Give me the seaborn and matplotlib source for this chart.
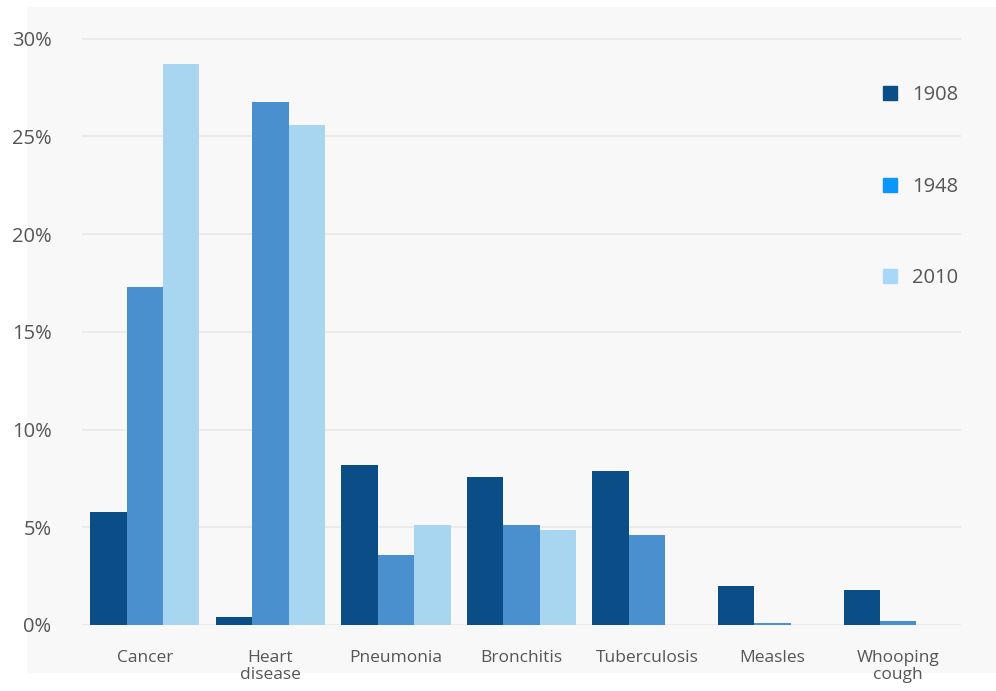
import matplotlib
matplotlib.use("Agg")
import matplotlib.pyplot as plt
import seaborn as sns
import pandas as pd
from matplotlib.patches import Rectangle
from matplotlib.lines import Line2D

categories = ["Cancer", "Heart\ndisease", "Pneumonia", "Bronchitis", "Tuberculosis", "Measles", "Whooping\ncough"]
years = ["1908", "1948", "2010"]
v1908 = [5.8, 0.4, 8.2, 7.55, 7.9, 2.0, 1.8]
v1948 = [17.3, 26.75, 3.6, 5.1, 4.6, 0.1, 0.2]
v2010 = [28.7, 25.6, 5.1, 4.85, 0.0, 0.0, 0.0]
yticks = [0, 5, 10, 15, 20, 25, 30]
ytick_labels = ["0%", "5%", "10%", "15%", "20%", "25%", "30%"]

bar_colors = ["#0b4d87", "#4a8fce", "#a8d6f1"]
legend_colors = ["#0b4d87", "#0a96fb", "#a8d8f8"]

rows = []
for y, vals in zip(years, [v1908, v1948, v2010]):
    for c, v in zip(categories, vals):
        rows.append({"cat": c, "year": y, "val": v})
df = pd.DataFrame(rows)

sns.set_theme(style="white")
plt.rcParams["font.family"] = ["Open Sans", "DejaVu Sans"]

fig = plt.figure(figsize=(9.96, 6.91), dpi=100)
fig.patch.set_facecolor("white")
# light grey panel behind chart
fig.patches.append(Rectangle((27 / 996, 1 - 673 / 691), 1 - 27 / 996, (673 - 7) / 691,
                             transform=fig.transFigure, facecolor="#f8f8f8",
                             edgecolor="none", zorder=-10))

ax = fig.add_axes([82 / 996, 1 - 625 / 691, 879 / 996, (625 - 29) / 691])
ax.set_facecolor("none")

sns.barplot(data=df, x="cat", y="val", hue="year", palette=bar_colors,
            width=0.87, gap=0, ax=ax, legend=False, saturation=1, zorder=3,
            linewidth=0, edgecolor="none")

ax.set_xlim(-0.5, 6.5)
ax.set_ylim(0, 30.5)
ax.set_yticks(yticks)
ax.set_yticklabels(ytick_labels)
for t in yticks:
    ax.axhline(t, color="#e9e9e9", lw=1.2, zorder=1)
for s in ax.spines.values():
    s.set_visible(False)
ax.tick_params(axis="y", length=0, pad=22, labelsize=14.5, labelcolor="#555555")
ax.tick_params(axis="x", length=0, pad=18, labelsize=12.5, labelcolor="#555555")
for lab in ax.get_xticklabels():
    lab.set_linespacing(1.05)
ax.set_xlabel("")
ax.set_ylabel("")

handles = [Line2D([0], [0], marker="s", linestyle="none", markersize=10,
                  markerfacecolor=c, markeredgecolor=c) for c in legend_colors]
leg = ax.legend(handles, years, loc="upper left", bbox_to_anchor=(862 / 996, 1 - 67 / 691),
                bbox_transform=fig.transFigure, frameon=False, fontsize=14.5,
                labelspacing=3.55, handletextpad=0.6, handlelength=1.0)
for t in leg.get_texts():
    t.set_color("#555555")

fig.savefig("out.png", dpi=100)
